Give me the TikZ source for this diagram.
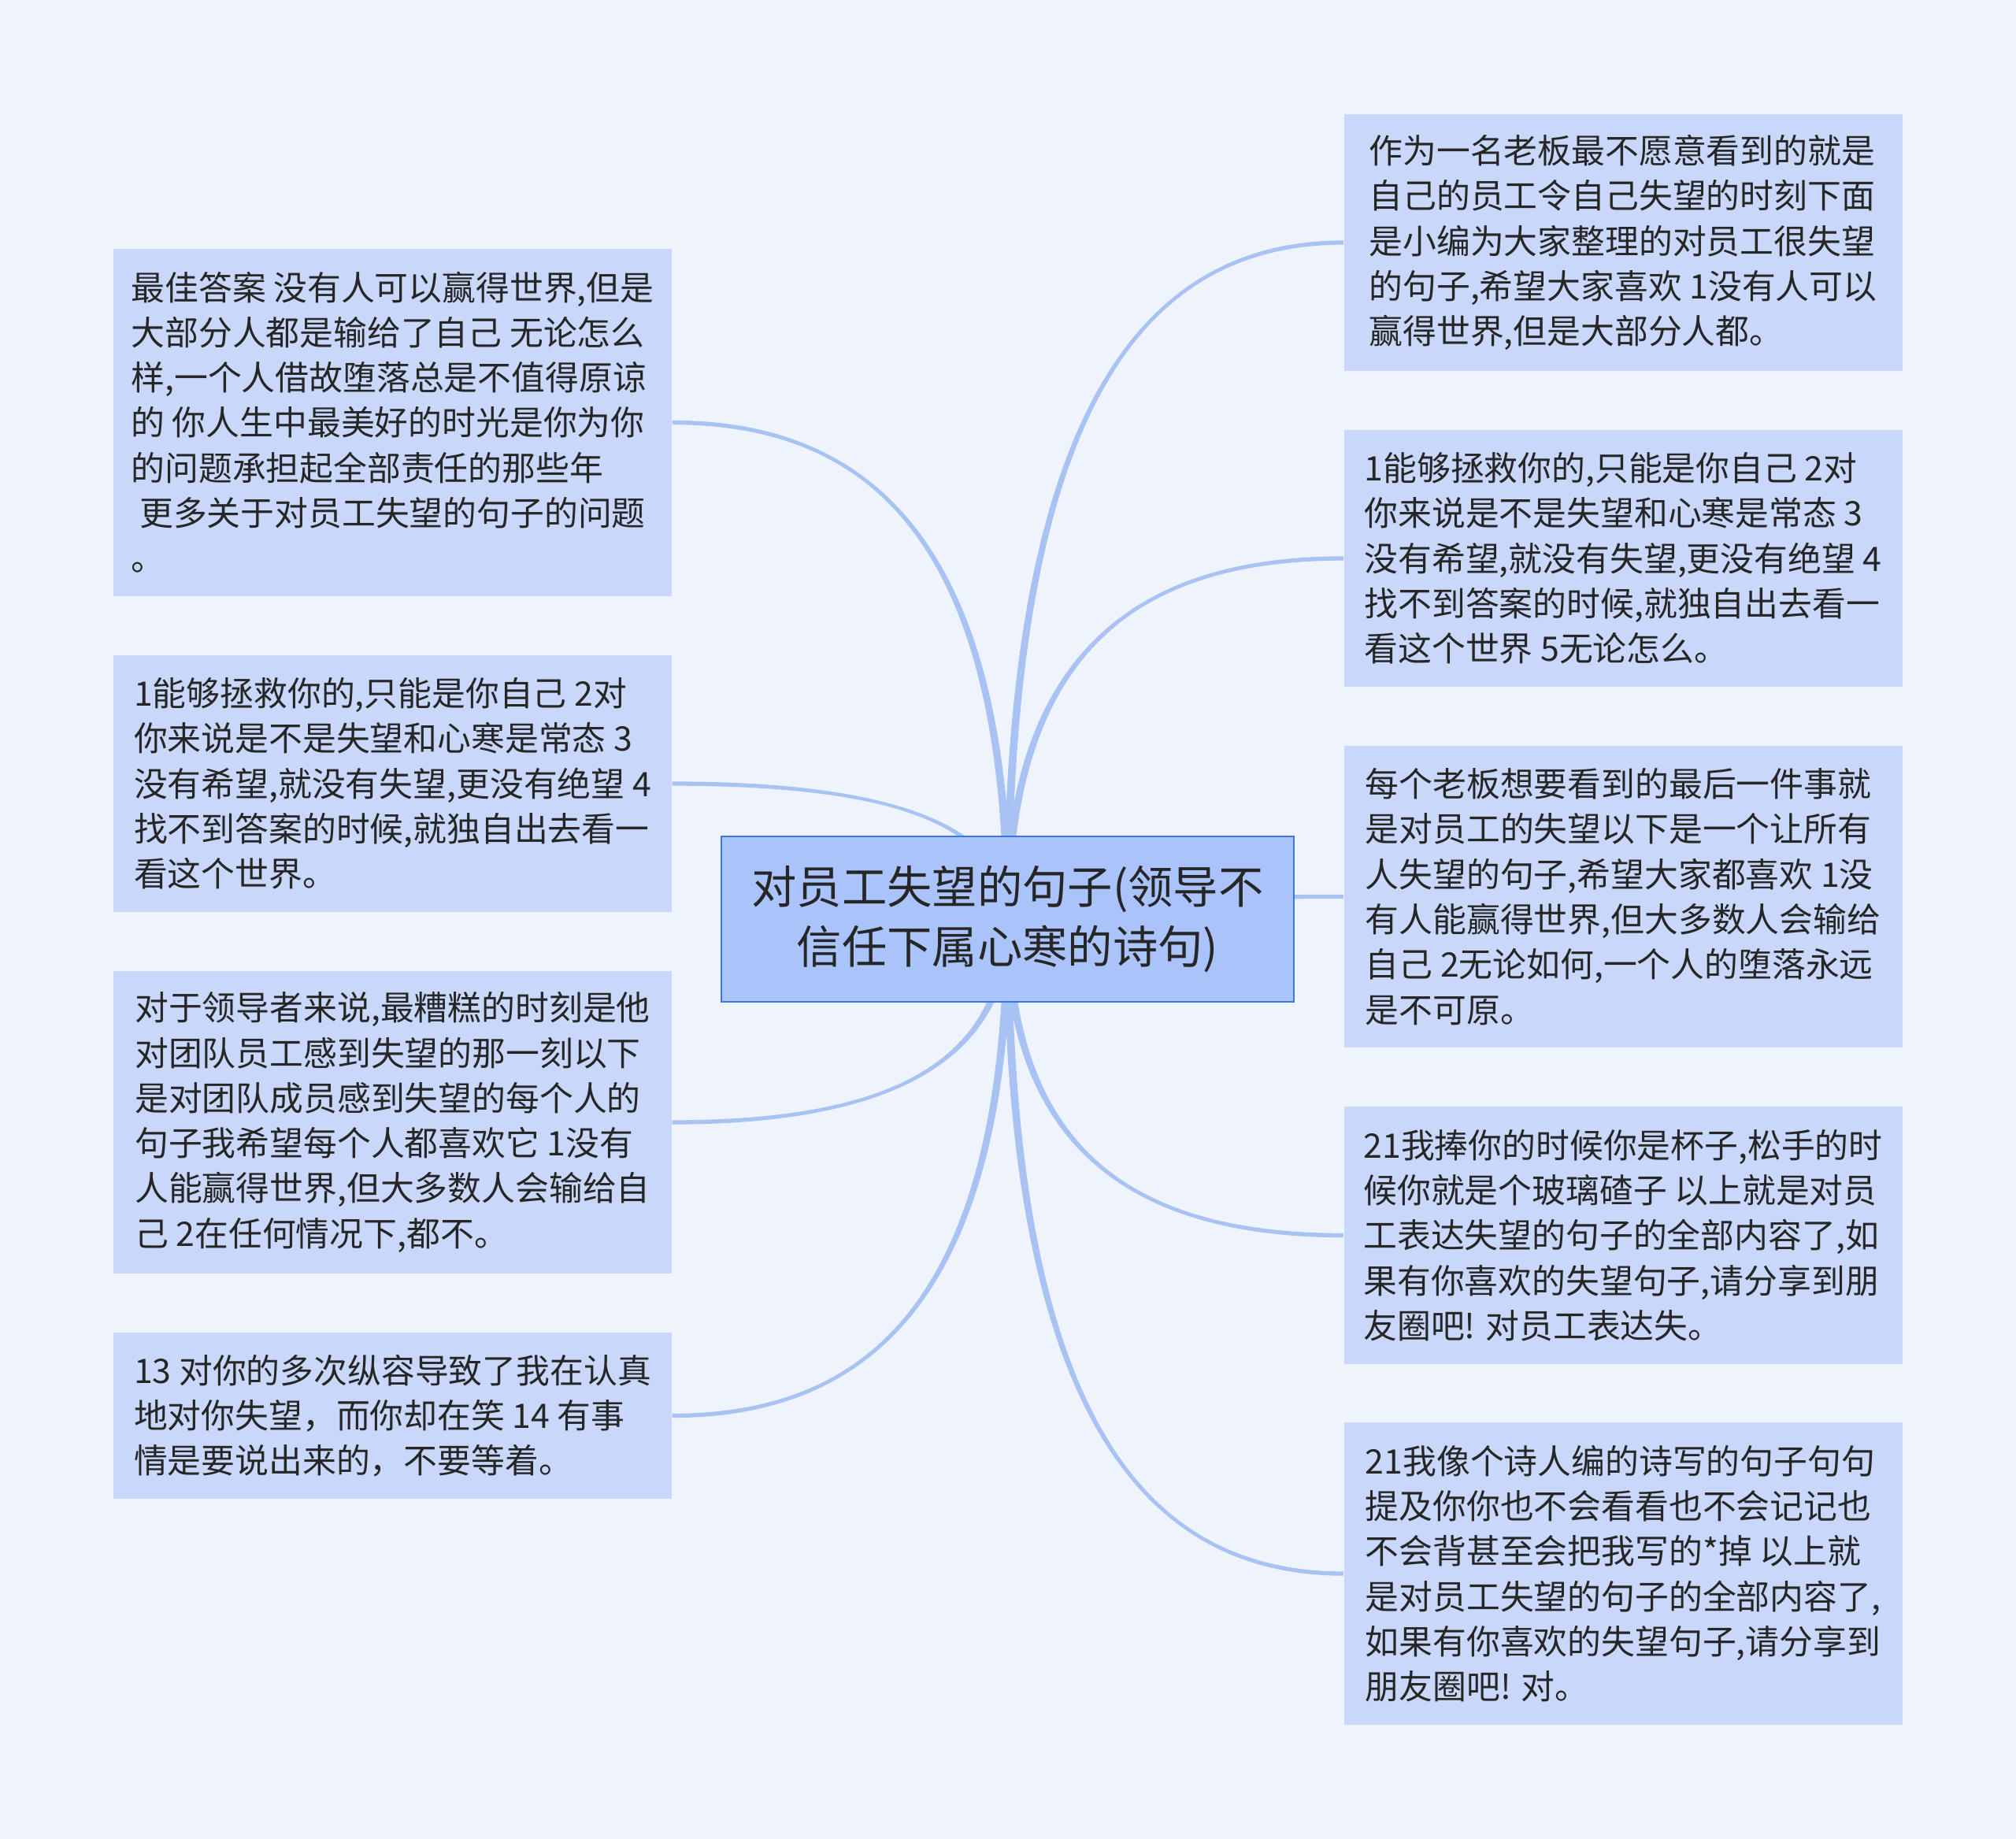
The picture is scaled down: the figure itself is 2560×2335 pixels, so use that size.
\documentclass[tikz,border=0pt]{standalone}
\usepackage{fontspec}
\setmainfont{Noto Sans CJK SC}
\usetikzlibrary{calc}

\definecolor{bgcol}{HTML}{EFF4FC}
\definecolor{leafcol}{HTML}{C9D8FA}
\definecolor{corecol}{HTML}{AAC4FB}
\definecolor{coreline}{HTML}{3A78E0}
\definecolor{linkcol}{HTML}{A9C2F4}
\definecolor{textcol}{HTML}{262626}

% tapered branch from the hub to a topic side
\newcommand{\branch}[2]{%
  \fill[link] let \p1=(#1), \p2=(#2), \n1={\x2-\x1}, \n2={\y2-\y1},
      \n3={sign(\n1)}, \n4={sign(\n2)} in
    ({\x1-(\n4)*1.5pt}, \y1)
      .. controls ({\x1-(\n4)*1.5pt}, {\y1+0.75*(\n2)}) and ({\x2-0.6*(\n1)}, {\y2+(\n3)*0.8pt}) ..
    (\x2, {\y2+(\n3)*0.8pt}) -- (\x2, {\y2-(\n3)*0.8pt})
      .. controls ({\x2-0.6*(\n1)}, {\y2-(\n3)*0.8pt}) and ({\x1+(\n4)*1.5pt}, {\y1+0.75*(\n2)}) ..
    ({\x1+(\n4)*1.5pt}, \y1) -- cycle;}

\begin{document}
\begin{tikzpicture}[
    x=0.3pt, y=-0.3pt,
    leaf/.style={rectangle, fill=leafcol, align=left, text=textcol, minimum width=212.7pt, inner xsep=6pt,
                 font=\fontsize{12.85pt}{17.19pt}\selectfont},
    nlines/.style={minimum height={#1*17.19pt+12pt}},
    core/.style={rectangle, draw=coreline, line width=0.6pt, fill=corecol, align=center, text=textcol,
                 minimum width=218.1pt, minimum height=63pt, font=\fontsize{17.2pt}{22.8pt}\selectfont},
    link/.style={fill=linkcol}
]

\fill[bgcol] (0,0) rectangle (2560,2335);

\coordinate (hub) at (1279.5,1167);

% Left topics
\node[leaf, nlines=7] (answer)  at (498.5,536.5) {最佳答案 没有人可以赢得世界,但是\\大部分人都是输给了自己 无论怎么\\样,一个人借故堕落总是不值得原谅\\的 你人生中最美好的时光是你为你\\的问题承担起全部责任的那些年\\\hspace*{0.25em}更多关于对员工失望的句子的问题\\\vphantom{国}。};
\node[leaf, nlines=5] (rescue)  at (498.5,995)   {1能够拯救你的,只能是你自己 2对\\你来说是不是失望和心寒是常态 3\\没有希望,就没有失望,更没有绝望 4\\找不到答案的时候,就独自出去看一\\看这个世界。};
\node[leaf, nlines=6] (leader)  at (498.5,1425)  {对于领导者来说,最糟糕的时刻是他\\对团队员工感到失望的那一刻以下\\是对团队成员感到失望的每个人的\\句子我希望每个人都喜欢它 1没有\\人能赢得世界,但大多数人会输给自\\己 2在任何情况下,都不。};
\node[leaf, nlines=3] (indulge) at (498.5,1797.5) {13 对你的多次纵容导致了我在认真\\地对你失望，而你却在笑 14 有事\\情是要说出来的，不要等着。};

% Right topics
\node[leaf, nlines=5] (owner)   at (2061,308)    {作为一名老板最不愿意看到的就是\\自己的员工令自己失望的时刻下面\\是小编为大家整理的对员工很失望\\的句子,希望大家喜欢 1没有人可以\\赢得世界,但是大部分人都。};
\node[leaf, nlines=5] (alone)   at (2061,709)    {1能够拯救你的,只能是你自己 2对\\你来说是不是失望和心寒是常态 3\\没有希望,就没有失望,更没有绝望 4\\找不到答案的时候,就独自出去看一\\看这个世界 5无论怎么。};
\node[leaf, nlines=6] (lastwish) at (2061,1138.5) {每个老板想要看到的最后一件事就\\是对员工的失望以下是一个让所有\\人失望的句子,希望大家都喜欢 1没\\有人能赢得世界,但大多数人会输给\\自己 2无论如何,一个人的堕落永远\\是不可原。};
\node[leaf, nlines=5] (cup)     at (2061,1568.5) {21我捧你的时候你是杯子,松手的时\\候你就是个玻璃碴子 以上就是对员\\工表达失望的句子的全部内容了,如\\果有你喜欢的失望句子,请分享到朋\\友圈吧! 对员工表达失。};
\node[leaf, nlines=6] (poet)    at (2061,1998)   {21我像个诗人编的诗写的句子句句\\提及你你也不会看看也不会记记也\\不会背甚至会把我写的*掉 以上就\\是对员工失望的句子的全部内容了,\\如果有你喜欢的失望句子,请分享到\\朋友圈吧! 对。};

% Branches
\branch{hub}{answer.east}
\branch{hub}{rescue.east}
\branch{hub}{leader.east}
\branch{hub}{indulge.east}
\branch{hub}{owner.west}
\branch{hub}{alone.west}
\branch{hub}{lastwish.west}
\branch{hub}{cup.west}
\branch{hub}{poet.west}

\node[core] (core) at (hub) {对员工失望的句子(领导不\\信任下属心寒的诗句)};

\end{tikzpicture}
\end{document}
